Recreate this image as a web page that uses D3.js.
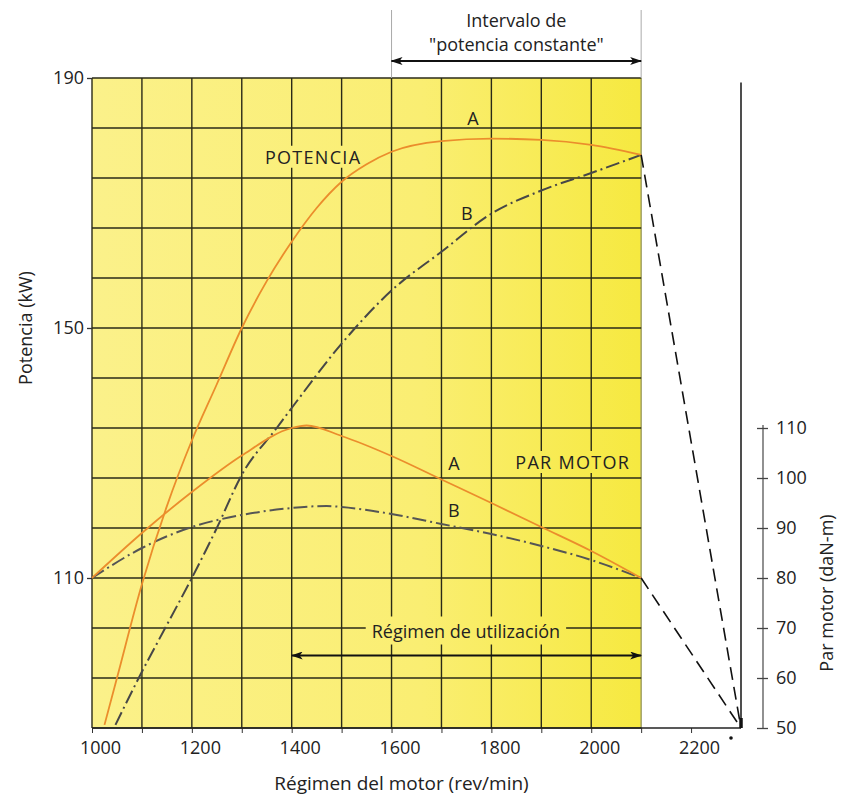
<!DOCTYPE html>
<html>
<head>
<meta charset="utf-8">
<script src="https://cdn.jsdelivr.net/npm/d3@7"></script>
<style>
  body { margin: 0; background: #fff; }
  text { font-family: "Open Sans", sans-serif; fill: #222; }
</style>
</head>
<body>
<div id="chart"></div>
<script>
var width = 851,
    height = 796;

// curves: [rpm] and [kW] / [daN-m]
var rpmPowerA = [1025, 1050, 1100, 1150, 1200, 1250, 1300, 1350, 1400, 1450, 1500, 1550, 1600, 1700, 1800, 1900, 2000, 2100];
var powerA    = [86.5, 94, 109, 121.5, 132, 141, 150, 157.5, 163.8, 169.2, 173.4, 176.2, 178.2, 179.9, 180.3, 180.1, 179.3, 177.7];
var rpmPowerB = [1047, 1100, 1150, 1200, 1250, 1300, 1370, 1400, 1500, 1600, 1700, 1800, 1900, 2000, 2100];
var powerB    = [86.5, 95, 102.5, 110, 118, 126.5, 134, 137.2, 147.5, 156, 162.2, 168.3, 172, 174.8, 177.7];
var rpmTorqueA = [1000, 1100, 1200, 1300, 1400, 1430, 1500, 1600, 1700, 1800, 1900, 2000, 2100];
var torqueA    = [80, 89, 97.2, 104.5, 110, 110.5, 108.4, 104.4, 99.7, 95, 90.2, 85.4, 80];
var rpmTorqueB = [1000, 1100, 1200, 1300, 1400, 1470, 1500, 1600, 1700, 1800, 1900, 2000, 2100];
var torqueB    = [80, 86, 90.2, 92.6, 94, 94.4, 94.2, 92.8, 90.8, 88.8, 86.4, 83.6, 80];

// dashed fall-off after 2100 rpm
var cutRpm    = [2100, 2300];
var cutPower  = [177.7, 86];
var cutTorque = [80, 50];

// ticks and grid
var rpmGrid    = [1000, 1100, 1200, 1300, 1400, 1500, 1600, 1700, 1800, 1900, 2000, 2100];
var rpmTicks   = [1000, 1100, 1200, 1300, 1400, 1500, 1600, 1700, 1800, 1900, 2000, 2100, 2200];
var rpmLabels  = [1000, 1200, 1400, 1600, 1800, 2000, 2200];
var powerGrid  = [86, 94, 102, 110, 118, 126, 134, 142, 150, 158, 166, 174, 182, 190];
var powerTicks = [110, 150, 190];
var torqueTicks = [50, 60, 70, 80, 90, 100, 110];

// annotation ranges
var constPowerRange = [1600, 2100];
var usageRange = [1400, 2100];

var x = d3.scaleLinear().domain([1000, 2300]).range([92, 741]);
var y = d3.scaleLinear().domain([86, 190]).range([728, 78]);
var y2 = d3.scaleLinear().domain([50, 110]).range([728, 428]);

var svg = d3.select("#chart").append("svg")
    .attr("width", width)
    .attr("height", height);

var defs = svg.append("defs");
var grad = defs.append("linearGradient")
    .attr("id", "yellow")
    .attr("gradientUnits", "userSpaceOnUse")
    .attr("x1", x(1000)).attr("x2", x(2100))
    .attr("y1", 0).attr("y2", 0);
grad.append("stop").attr("offset", 0).attr("stop-color", "#fbf18a");
grad.append("stop").attr("offset", 0.6).attr("stop-color", "#faee72");
grad.append("stop").attr("offset", 1).attr("stop-color", "#f6e940");

defs.append("marker")
    .attr("id", "arrow")
    .attr("viewBox", "0 0 12 8")
    .attr("refX", 11).attr("refY", 4)
    .attr("markerWidth", 12).attr("markerHeight", 8)
    .attr("markerUnits", "userSpaceOnUse")
    .attr("orient", "auto-start-reverse")
    .append("path")
    .attr("d", "M0,0 L12,4 L0,8 L3,4 Z")
    .attr("fill", "#111");

// yellow field
svg.append("rect")
    .attr("x", x(1000)).attr("y", y(190))
    .attr("width", x(2100) - x(1000))
    .attr("height", y(86) - y(190))
    .attr("fill", "url(#yellow)");

// grid
var grid = svg.append("g")
    .attr("stroke", "#2a2a18")
    .attr("stroke-width", 1.4);
grid.selectAll("line.v")
    .data(rpmGrid)
    .join("line")
    .attr("class", "v")
    .attr("x1", d => x(d)).attr("x2", d => x(d))
    .attr("y1", y(190)).attr("y2", y(86))
    .attr("stroke", d => d === 2100 ? "#9a9a60" : null);
grid.selectAll("line.h")
    .data(powerGrid)
    .join("line")
    .attr("class", "h")
    .attr("x1", x(1000)).attr("x2", x(2100))
    .attr("y1", d => y(d)).attr("y2", d => y(d));

// text masks (labels sit on a yellow patch)
function masked(txt, cx, cy, size, spacing, padX, padY) {
    var t = svg.append("text")
        .attr("x", cx).attr("y", cy)
        .attr("text-anchor", "middle")
        .attr("dominant-baseline", "central")
        .attr("font-size", size)
        .attr("letter-spacing", spacing)
        .text(txt);
    var b = t.node().getBBox();
    svg.insert("rect", function () { return t.node(); })
        .attr("x", b.x - padX).attr("y", b.y - padY)
        .attr("width", b.width + 2 * padX)
        .attr("height", b.height + 2 * padY)
        .attr("fill", "url(#yellow)");
    return t;
}

masked("POTENCIA", x(1443), y(177.4), 18, 1.3, 2, -1);
masked("PAR MOTOR", x(1963), y2(103.2), 18, 1.3, 2, -1);
masked("Régimen de utilización", x(1749), y(101.6), 18, 0, 6, 2);

// curve labels A / B
var curveLabels = [
    {t: "A", rpm: 1763, v: y(183.6)},
    {t: "B", rpm: 1751, v: y(168.4)},
    {t: "A", rpm: 1725, v: y2(103)},
    {t: "B", rpm: 1725, v: y2(93.6)}
];
svg.append("g").selectAll("text")
    .data(curveLabels)
    .join("text")
    .attr("x", d => x(d.rpm))
    .attr("y", d => d.v)
    .attr("text-anchor", "middle")
    .attr("dominant-baseline", "central")
    .attr("font-size", 18)
    .text(d => d.t);

// axes
var bottomAxis = svg.append("g")
    .attr("transform", `translate(0,${y(86)})`)
    .call(d3.axisBottom(x)
        .tickValues(rpmTicks)
        .tickSize(5)
        .tickPadding(8)
        .tickFormat(d => rpmLabels.indexOf(d) >= 0 ? d : ""));
bottomAxis.select(".domain").remove();
bottomAxis.selectAll("line").attr("stroke", "#333");
bottomAxis.selectAll("text")
    .attr("font-size", 18)
    .attr("dx", 8)
    .attr("fill", "#222")
    .style("font-family", "'Open Sans', sans-serif");

svg.append("line")
    .attr("x1", x(1000)).attr("x2", x(2300))
    .attr("y1", y(86)).attr("y2", y(86))
    .attr("stroke", "#222").attr("stroke-width", 1.5);

var leftAxis = svg.append("g")
    .attr("transform", `translate(${x(1000)},0)`)
    .call(d3.axisLeft(y).tickValues(powerTicks).tickSize(5).tickPadding(3));
leftAxis.select(".domain").remove();
leftAxis.selectAll("line").attr("stroke", "#333").attr("stroke-width", 1.3);
leftAxis.selectAll("text")
    .attr("font-size", 18)
    .attr("fill", "#222")
    .style("font-family", "'Open Sans', sans-serif");

var rightX = 763;
var rightAxis = svg.append("g")
    .attr("transform", `translate(${rightX},0)`)
    .call(d3.axisRight(y2).tickValues(torqueTicks).tickSizeInner(5).tickSizeOuter(0).tickPadding(8));
rightAxis.select(".domain").attr("stroke", "#555").attr("stroke-width", 1.3)
    .attr("d", `M0,${y2(50)}V${y2(110) - 3}`);
rightAxis.selectAll(".tick line").attr("x1", -6).attr("stroke", "#444").attr("stroke-width", 1.3);
rightAxis.selectAll("text")
    .attr("font-size", 18)
    .attr("fill", "#222")
    .style("font-family", "'Open Sans', sans-serif");

// axis titles
svg.append("text")
    .attr("transform", `translate(25,${y(150)}) rotate(-90)`)
    .attr("text-anchor", "middle")
    .attr("dominant-baseline", "central")
    .attr("font-size", 18)
    .text("Potencia (kW)");
svg.append("text")
    .attr("transform", `translate(826,${y2(77)}) rotate(-90)`)
    .attr("text-anchor", "middle")
    .attr("dominant-baseline", "central")
    .attr("font-size", 18)
    .text("Par motor (daN-m)");
svg.append("text")
    .attr("x", x(1620))
    .attr("y", 790)
    .attr("text-anchor", "middle")
    .attr("font-size", 19)
    .text("Régimen del motor (rev/min)");

// curves
var lineP = d3.line().x(d => x(d[0])).y(d => y(d[1])).curve(d3.curveMonotoneX);
var lineT = d3.line().x(d => x(d[0])).y(d => y2(d[1])).curve(d3.curveMonotoneX);

svg.append("path")
    .attr("d", lineP(d3.zip(rpmPowerB, powerB)))
    .attr("fill", "none").attr("stroke", "#474747")
    .attr("stroke-width", 2).attr("stroke-dasharray", "14,4,2,4");
svg.append("path")
    .attr("d", lineT(d3.zip(rpmTorqueB, torqueB)))
    .attr("fill", "none").attr("stroke", "#555")
    .attr("stroke-width", 2).attr("stroke-dasharray", "14,4,2,4");
svg.append("path")
    .attr("d", lineP(d3.zip(rpmPowerA, powerA)))
    .attr("fill", "none").attr("stroke", "#eb8d2c")
    .attr("stroke-width", 1.8);
svg.append("path")
    .attr("d", lineT(d3.zip(rpmTorqueA, torqueA)))
    .attr("fill", "none").attr("stroke", "#eb8d2c")
    .attr("stroke-width", 1.8);

// dashed cut-off lines
var straightP = d3.line().x(d => x(d[0])).y(d => y(d[1]));
var straightT = d3.line().x(d => x(d[0])).y(d => y2(d[1]));
svg.append("path")
    .attr("d", straightP(d3.zip(cutRpm, cutPower)))
    .attr("fill", "none").attr("stroke", "#111")
    .attr("stroke-width", 1.6).attr("stroke-dasharray", "13,7");
svg.append("path")
    .attr("d", straightT(d3.zip(cutRpm, cutTorque)))
    .attr("fill", "none").attr("stroke", "#111")
    .attr("stroke-width", 1.6).attr("stroke-dasharray", "13,7");

// limit line at 2300 rpm
svg.append("line")
    .attr("x1", x(2300)).attr("x2", x(2300))
    .attr("y1", y(189.3)).attr("y2", y(86))
    .attr("stroke", "#222").attr("stroke-width", 1.6);
svg.append("line")
    .attr("x1", x(2300)).attr("x2", x(2300))
    .attr("y1", y(86) - 10).attr("y2", y(86))
    .attr("stroke", "#111").attr("stroke-width", 3.5);
svg.append("circle")
    .attr("cx", x(2280)).attr("cy", y(86) + 10)
    .attr("r", 1.8).attr("fill", "#111");

// "potencia constante" interval
var topY = 61;
svg.append("g")
    .attr("stroke", "#aaa").attr("stroke-width", 1)
    .selectAll("line")
    .data(constPowerRange)
    .join("line")
    .attr("x1", d => x(d)).attr("x2", d => x(d))
    .attr("y1", 10).attr("y2", y(190));
svg.append("line")
    .attr("x1", x(constPowerRange[0])).attr("x2", x(constPowerRange[1]))
    .attr("y1", topY).attr("y2", topY)
    .attr("stroke", "#111").attr("stroke-width", 2)
    .attr("marker-start", "url(#arrow)")
    .attr("marker-end", "url(#arrow)");
var midTop = (x(constPowerRange[0]) + x(constPowerRange[1])) / 2;
svg.append("text")
    .attr("x", midTop).attr("y", 27)
    .attr("text-anchor", "middle").attr("font-size", 18)
    .text("Intervalo de");
svg.append("text")
    .attr("x", midTop).attr("y", 51)
    .attr("text-anchor", "middle").attr("font-size", 18)
    .text("\"potencia constante\"");

// usage range arrow
svg.append("line")
    .attr("x1", x(usageRange[0])).attr("x2", x(usageRange[1]))
    .attr("y1", y(97.6)).attr("y2", y(97.6))
    .attr("stroke", "#111").attr("stroke-width", 2)
    .attr("marker-start", "url(#arrow)")
    .attr("marker-end", "url(#arrow)");
</script>
</body>
</html>
